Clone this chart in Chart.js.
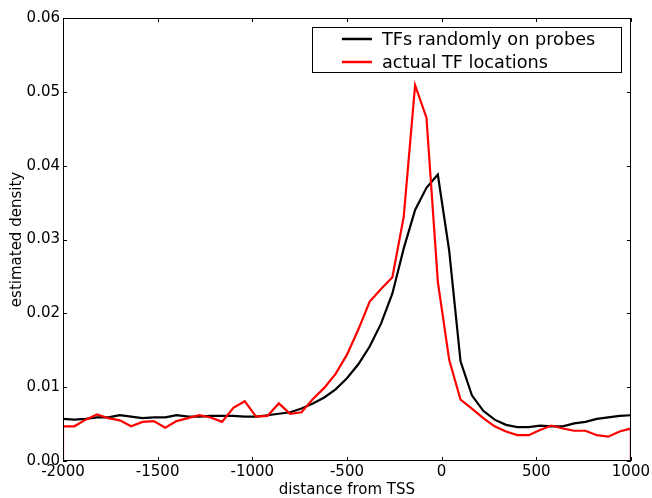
<!DOCTYPE html>
<html>
<head>
<meta charset="utf-8">
<script src="https://cdn.jsdelivr.net/npm/chart.js@4.4.0/dist/chart.umd.min.js"></script>
<style>
  html, body { margin: 0; padding: 0; background: #fff; }
  #wrap { width: 652px; height: 498px; }
</style>
</head>
<body>
<div id="wrap"><canvas id="density"></canvas></div>
<script>
// distance from TSS, bins every 60 bp
var positions = [-2000, -1940, -1880, -1820, -1760, -1700, -1640, -1580, -1520, -1460,
                 -1400, -1340, -1280, -1220, -1160, -1100, -1040, -980, -920, -860,
                 -800, -740, -680, -620, -560, -500, -440, -380, -320, -260,
                 -200, -140, -80, -20, 40, 100, 160, 220, 280, 340,
                 400, 460, 520, 580, 640, 700, 760, 820, 880, 940, 1000];

var randomProbes = [0.0057, 0.0056, 0.0057, 0.0059, 0.0059, 0.0062, 0.0060, 0.0058, 0.0059, 0.0059,
                    0.0062, 0.0060, 0.0060, 0.0061, 0.0061, 0.0061, 0.0060, 0.0060, 0.0062, 0.0064,
                    0.0066, 0.0071, 0.0078, 0.0086, 0.0097, 0.0112, 0.0131, 0.0155, 0.0186, 0.0227,
                    0.0288, 0.0340, 0.0370, 0.0388, 0.0285, 0.0135, 0.0089, 0.0068, 0.0056, 0.0049,
                    0.0046, 0.0046, 0.0048, 0.0047, 0.0047, 0.0051, 0.0053, 0.0057, 0.0059, 0.0061, 0.0062];

var actualTF = [0.0047, 0.0047, 0.0056, 0.0063, 0.0058, 0.0055, 0.0047, 0.0053, 0.0054, 0.0045,
                0.0054, 0.0058, 0.0062, 0.0059, 0.0053, 0.0072, 0.0081, 0.0060, 0.0061, 0.0078,
                0.0064, 0.0066, 0.0084, 0.0099, 0.0118, 0.0144, 0.0178, 0.0216, 0.0233, 0.0249,
                0.0331, 0.0509, 0.0465, 0.0243, 0.0137, 0.0083, 0.0071, 0.0058, 0.0047, 0.0040,
                0.0035, 0.0035, 0.0042, 0.0048, 0.0044, 0.0041, 0.0041, 0.0035, 0.0033, 0.0040, 0.0044];

// the red curve drops to zero at both ends of the range
var actualEdges = [0, 0];

var xTicks = [-2000, -1500, -1000, -500, 0, 500, 1000];
var yTicks = [0, 0.01, 0.02, 0.03, 0.04, 0.05, 0.06];

var seriesNames = ["TFs randomly on probes", "actual TF locations"];

var FONT = "'DejaVu Sans', Verdana, sans-serif";

function toPoints(xs, ys) {
	return xs.map(function (x, i) { return { x: x, y: ys[i] }; });
}

var actualPoints = [{ x: positions[0], y: actualEdges[0] }]
	.concat(toPoints(positions, actualTF))
	.concat([{ x: positions[positions.length - 1], y: actualEdges[1] }]);

// box round the plot plus matplotlib style inward ticks on all four sides
var frameTicks = {
	id: "frameTicks",
	afterDatasetsDraw: function (chart) {
		var ctx = chart.ctx, a = chart.chartArea;
		var xs = chart.scales.x, ys = chart.scales.y;
		ctx.save();
		ctx.strokeStyle = "#000";
		ctx.lineWidth = 1;
		ctx.beginPath();
		xTicks.forEach(function (v) {
			var px = Math.round(xs.getPixelForValue(v)) + 0.5;
			ctx.moveTo(px, a.bottom); ctx.lineTo(px, a.bottom - 4);
			ctx.moveTo(px, a.top); ctx.lineTo(px, a.top + 4);
		});
		yTicks.forEach(function (v) {
			var py = Math.round(ys.getPixelForValue(v)) + 0.5;
			ctx.moveTo(a.left, py); ctx.lineTo(a.left + 4, py);
			ctx.moveTo(a.right, py); ctx.lineTo(a.right - 4, py);
		});
		ctx.stroke();
		ctx.strokeRect(Math.round(a.left) + 0.5, Math.round(a.top) + 0.5,
			Math.round(a.right - a.left) - 1, Math.round(a.bottom - a.top) - 1);
		ctx.restore();
	}
};

// legend in a framed box, top right inside the axes
var boxLegend = {
	id: "boxLegend",
	afterDraw: function (chart) {
		var ctx = chart.ctx, a = chart.chartArea;
		var w = 309, h = 45;
		var bx = a.right - 10 - w, by = a.top + 9;
		ctx.save();
		ctx.fillStyle = "#fff";
		ctx.fillRect(bx, by, w, h);
		ctx.strokeStyle = "#000";
		ctx.lineWidth = 1;
		ctx.strokeRect(Math.round(bx) + 0.5, Math.round(by) + 0.5, w, h);
		ctx.font = "17.7px " + FONT;
		ctx.textBaseline = "middle";
		ctx.textAlign = "left";
		var rows = [chart.data.datasets[1], chart.data.datasets[0]];
		rows.forEach(function (ds, i) {
			var ry = by + 12 + i * 23;
			ctx.strokeStyle = ds.borderColor;
			ctx.lineWidth = 2.5;
			ctx.beginPath();
			ctx.moveTo(bx + 30, ry);
			ctx.lineTo(bx + 60, ry);
			ctx.stroke();
			ctx.fillStyle = "#000";
			ctx.fillText(ds.label, bx + 70, ry + 1);
		});
		ctx.restore();
	}
};

var ctx1 = document.getElementById("density");

var chart1 = new Chart(ctx1, {
	type: "line",
	data: {
		datasets: [
			{
				label: seriesNames[1],
				data: actualPoints,
				borderColor: "#ff0000",
				borderWidth: 2.2,
				pointRadius: 0,
				tension: 0,
				fill: false
			},
			{
				label: seriesNames[0],
				data: toPoints(positions, randomProbes),
				borderColor: "#000000",
				borderWidth: 2.2,
				pointRadius: 0,
				tension: 0,
				fill: false
			}
		]
	},
	options: {
		responsive: true,
		maintainAspectRatio: false,
		animation: false,
		layout: {
			autoPadding: false,
			padding: { left: 0, top: 18, right: 20, bottom: 0 }
		},
		plugins: {
			legend: { display: false },
			tooltip: { enabled: false }
		},
		scales: {
			x: {
				type: "linear",
				min: -2000,
				max: 1000,
				afterBuildTicks: function (s) { s.ticks = xTicks.map(function (v) { return { value: v }; }); },
				afterFit: function (s) { s.height = 37; },
				grid: { display: false, drawTicks: false },
				border: { display: false },
				ticks: {
					padding: 2,
					maxRotation: 0,
					color: "#000",
					font: { family: FONT, size: 15 },
					callback: function (v) { return String(v); }
				},
				title: {
					display: true,
					text: "distance from TSS",
					color: "#000",
					font: { family: FONT, size: 15, lineHeight: 1 },
					padding: { top: 0, bottom: 0 }
				}
			},
			y: {
				min: 0,
				max: 0.06,
				afterBuildTicks: function (s) { s.ticks = yTicks.map(function (v) { return { value: v }; }); },
				afterFit: function (s) { s.width = 63; },
				grid: { display: false, drawTicks: false },
				border: { display: false },
				ticks: {
					padding: 3,
					color: "#000",
					font: { family: FONT, size: 15 },
					callback: function (v) { return Number(v).toFixed(2); }
				},
				title: {
					display: true,
					text: "estimated density",
					color: "#000",
					font: { family: FONT, size: 15 },
					padding: { top: 8, bottom: 0 }
				}
			}
		}
	},
	plugins: [frameTicks, boxLegend]
});
</script>
</body>
</html>
